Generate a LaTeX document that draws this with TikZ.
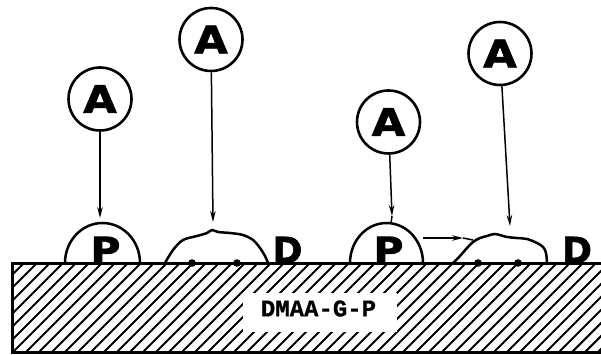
\documentclass[tikz,border=0pt]{standalone}
\usepackage{fontspec}
\usetikzlibrary{arrows.meta}
\newfontfamily\heavyfont{DejaVu Sans Bold}[FakeBold=1.6]
\newfontfamily\labelfont{Liberation Mono Bold}[FakeBold=0.6]
\newcommand\widened[1]{\scalebox{1.14}[1]{#1}}
\begin{document}
\begin{tikzpicture}[x=1pt,y=-1pt,
  ligand/.style={circle, draw, line width=2.6pt, minimum size=63pt, inner sep=0pt,
    font=\heavyfont\fontsize{38}{38}\selectfont},
  glyph/.style={inner sep=0pt, anchor=base,
    font=\heavyfont\fontsize{36}{36}\selectfont},
  probe/.style={line width=1.5pt, -{Stealth[length=11pt,width=5.5pt]}},
  feed/.style={line width=1.5pt},
  outline/.style={line width=2.5pt},
  hatch/.style={line width=2.1pt},
]
\useasboundingbox (0,0) rectangle (601,355);

% substrate with diagonal hatching
\begin{scope}
  \clip (12,263) rectangle (601,352);
  \foreach \x in {-104,-91,...,700}
    \draw[hatch] (\x,352) -- ++(89,-89);
\end{scope}
\draw[line width=3pt] (603,263) -- (12,263) -- (12,352) -- (603,352);

% label patch
\fill[white] (243,293) rectangle (397,332);
\node[inner sep=0pt, font=\labelfont\fontsize{24}{24}\selectfont] (lbl) at (318.5,308.5) {DMAA-G-P};

% first dome with P
\draw[outline] (65,263) arc[start angle=180, end angle=360, x radius=37.5, y radius=40];
\coordinate (dome1) at (102.5,223);
\node[glyph] (P1) at (105.5,263) {\widened{P}};

% first irregular patch
\draw[outline] plot[smooth, tension=0.55] coordinates {
  (165,263) (173,250) (183,240) (197,236) (207,233) (212,230) (218,232)
  (230,233) (243,235) (253,240) (260,248) (265,256) (268,263)};
\coordinate (blob1) at (212,230);
\fill (192,263) circle (3.8);
\fill (237,263) circle (3.8);
\node[glyph] (D1) at (287.5,263) {D};

% second dome with P
\draw[outline] (350,263) arc[start angle=180, end angle=360, x radius=36.5, y radius=40];
\coordinate (dome2) at (391,223);
\node[glyph] (P2) at (388.5,263) {\widened{P}};

% second irregular patch
\draw[outline] plot[smooth, tension=0.55] coordinates {
  (453,263) (460,256) (467,248) (473,242) (480,238) (487,236) (495,234)
  (507,237) (517,238) (527,239) (537,243) (543,247) (546,253) (547,263)};
\fill (478,263) circle (3.8);
\fill (518,263) circle (3.8);
\node[glyph] (D2) at (577,263) {D};

% transfer from dome to patch
\coordinate (mid) at (463,238);
\coordinate (patchedge) at (473,240);
\draw[probe] (423,238) -- (mid);
\draw[feed] (mid) -- (patchedge);

% ligands
\node[ligand] (A1) at (100,99) {\widened{A}};
\node[ligand] (A2) at (211,39.5) {\widened{A}};
\node[ligand] (A3) at (388.5,122) {\widened{A}};
\node[ligand] (A4) at (500,53.5) {\widened{A}};

\coordinate (t1) at (100,218);
\coordinate (t2) at (213,222);
\coordinate (t3) at (392,216);
\coordinate (t4) at (510,226);

\draw[probe] (A1) -- (t1);
\draw[probe] (A2) -- (t2);
\draw[probe] (A3) -- (t3);
\draw[feed] (t3) -- (dome2);
\draw[probe] (A4) -- (t4);
\end{tikzpicture}
\end{document}
